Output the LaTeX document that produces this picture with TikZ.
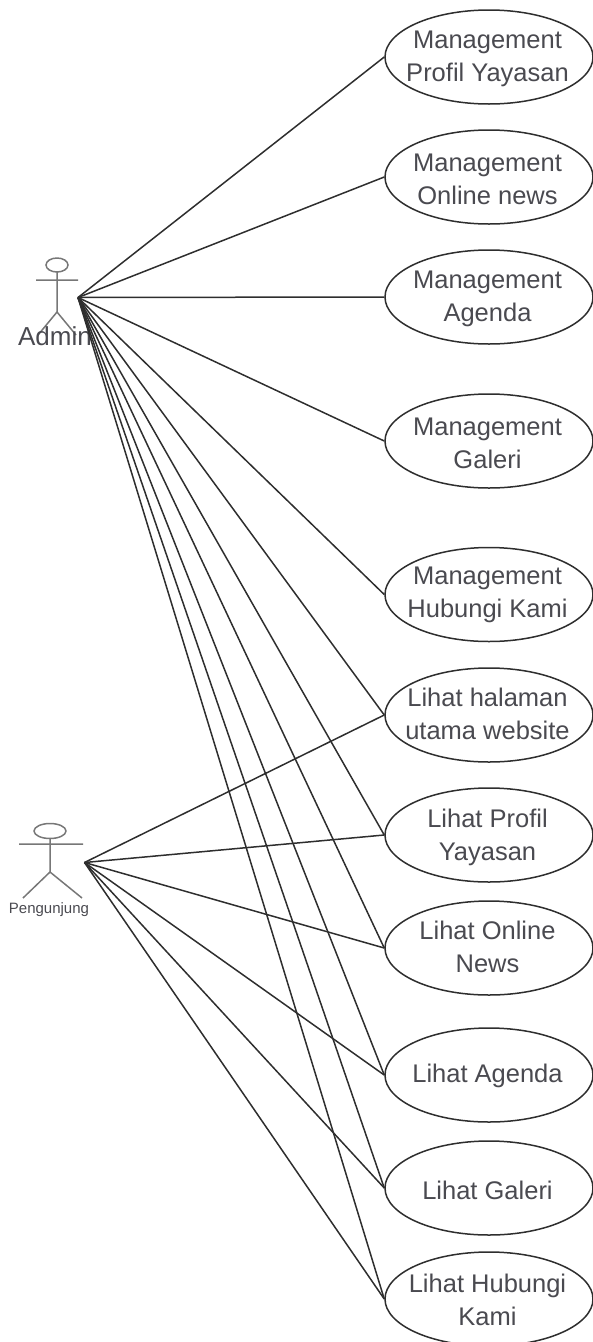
\documentclass[tikz,border=0pt]{standalone}
\usepackage{fontspec}
\setmainfont{Liberation Sans}
\usetikzlibrary{shapes.geometric}
\definecolor{inkline}{HTML}{2E2E2E}
\definecolor{inktext}{HTML}{4A4A50}
\definecolor{actorline}{HTML}{777777}
\tikzset{
  usecase/.style={draw=inkline,line width=1.5pt,ellipse,fill=white,minimum width=208pt,minimum height=94pt,inner sep=0pt},
  casetext/.style={text=inktext,inner sep=0pt,align=center,xshift=-1.5pt,font=\fontsize{25.5}{33}\selectfont},
  assoc/.style={draw=inkline,line width=1.5pt},
  actorpart/.style={draw=actorline,line width=1.5pt},
  actorname/.style={text=inktext,inner sep=0pt}
}
\newcommand\ucase[4][-2pt]{\node[usecase,label={[casetext,yshift=#1]center:#4}] (#2) at (489,#3) {};}
\begin{document}
\begin{tikzpicture}[x=1pt,y=-1pt]
\useasboundingbox (0,0) rectangle (593,1342);
% actors
\draw[actorpart] (57,265) ellipse (11 and 7);
\draw[actorpart] (36,280) -- (78,280) (57,272) -- (57,312) (57,312) -- (38,335) (57,312) -- (76,335);
\node[actorname,font=\fontsize{26}{26}\selectfont] (admin) at (55,336) {Admin};
\draw[actorpart] (50,831) ellipse (16 and 7.5);
\draw[actorpart] (19,844) -- (83,844) (50,838.5) -- (50,872) (50,872) -- (23,898) (50,872) -- (82,898);
\node[actorname,font=\fontsize{15}{15}\selectfont] (pengunjung) at (49,910) {Pengunjung};
\coordinate (a) at (78,297.5);
\coordinate (p) at (84.5,862.5);
% use cases
\ucase{u1}{57}{Management\\Profil Yayasan}
\ucase{u2}{177}{Management\\Online news}
\ucase{u3}{297}{Management\\Agenda}
\ucase{u4}{441}{Management\\Galeri}
\ucase[0pt]{u5}{594.5}{Management\\Hubungi Kami}
\ucase[1pt]{u6}{715}{Lihat halaman\\utama website}
\ucase{u7}{835}{Lihat Profil\\Yayasan}
\ucase[1pt]{u8}{948}{Lihat Online\\News}
\ucase[-1pt]{u9}{1075}{Lihat Agenda}
\ucase{u10}{1188}{Lihat Galeri}
\ucase[-0.5pt]{u11}{1299}{Lihat Hubungi\\Kami}
% connectors
\foreach \t in {u1,u2,u3,u4,u5,u6,u7,u8,u9,u10,u11}
  \draw[assoc] (a) -- (\t.west);
\foreach \t in {u6,u7,u8,u9,u10,u11}
  \draw[assoc] (p) -- (\t.west);
\end{tikzpicture}
\end{document}
